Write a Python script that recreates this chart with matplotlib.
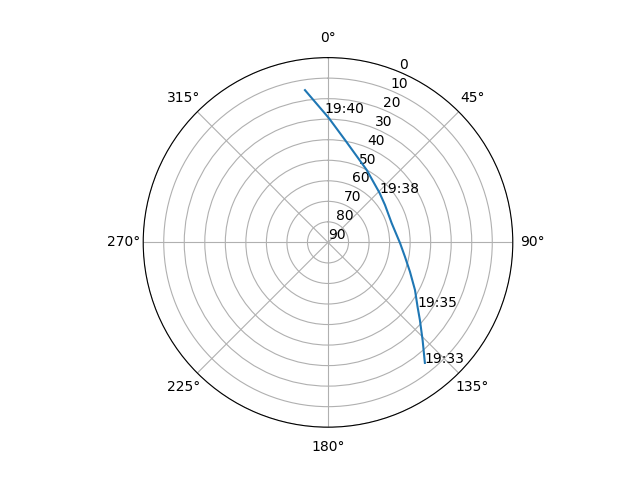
import numpy as np
import matplotlib
matplotlib.use("Agg")
import matplotlib.pyplot as plt

# Satellite pass: azimuth (deg, clockwise from north) and elevation (deg)
azimuth = [141.2, 135.9, 130.2, 125.8, 118.7, 109.7, 100.5, 90.6, 73.3,
           56.7, 46.2, 28.1, 9.4, 0.5, -1.5, -8.6]
elevation = [14.7, 23.8, 31.4, 36.2, 41.7, 47.6, 51.9, 54.9, 57.6,
             56.8, 55.2, 50.0, 39.4, 29.6, 27.0, 15.0]

label_times = ["19:33", "19:35", "19:38", "19:40"]
label_az = [141.2, 125.8, 46.2, -1.5]
label_el = [14.7, 36.2, 55.2, 27.0]

r_ticks = list(range(0, 91, 10))

fig = plt.figure(figsize=(6.4, 4.8), dpi=100)
ax = fig.add_subplot(111, projection="polar")
ax.set_theta_zero_location("N")
ax.set_theta_direction(-1)

ax.plot(np.radians(azimuth), elevation, color="#1f77b4")
for t, a, e in zip(label_times, label_az, label_el):
    ax.text(np.radians(a), e, t)

ax.set_yticks(r_ticks)
ax.set_ylim(90, 0)
ax.grid(True)

fig.savefig("out.png", dpi=100)
